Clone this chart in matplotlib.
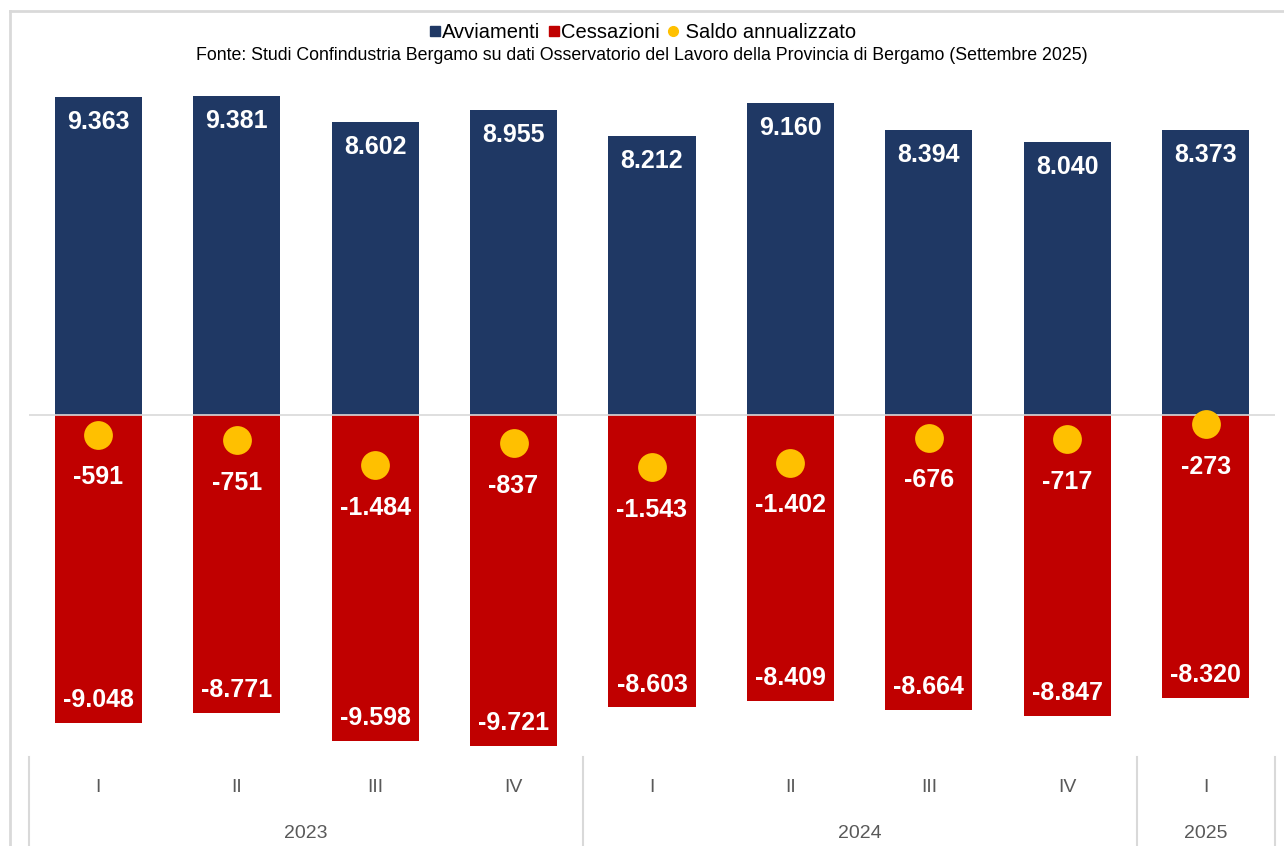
import matplotlib.pyplot as plt
from matplotlib.lines import Line2D
import matplotlib.transforms as mtransforms

plt.rcParams['font.family'] = ['Liberation Sans', 'DejaVu Sans']

# Data
trimestri = ['I', 'II', 'III', 'IV', 'I', 'II', 'III', 'IV', 'I']
anni = ['2023', '2024', '2025']
anni_pos = [1.5, 5.5, 8.0]
avviamenti = [9363, 9381, 8602, 8955, 8212, 9160, 8394, 8040, 8373]
cessazioni = [-9048, -8771, -9598, -9721, -8603, -8409, -8664, -8847, -8320]
saldo = [-591, -751, -1484, -837, -1543, -1402, -676, -717, -273]

blu = '#1F3864'
rosso = '#C00000'
giallo = '#FFC000'
grigio = '#D9D9D9'


def fmt(v):
    return f'{v:,}'.replace(',', '.')


fig = plt.figure(figsize=(12.84, 8.46), dpi=100)
ax = fig.add_axes([29 / 1284, 91 / 846, 1246 / 1284, 675 / 846])

x = list(range(len(trimestri)))
ax.bar(x, avviamenti, width=0.63, color=blu, zorder=2)
ax.bar(x, cessazioni, width=0.63, color=rosso, zorder=2)
ax.axhline(0, color=grigio, lw=1.2, zorder=3)
ax.scatter(x, saldo, s=430, color=giallo, zorder=4, linewidths=0)

for i in x:
    ax.annotate(fmt(avviamenti[i]), (i, avviamenti[i]), xytext=(0, -18),
                textcoords='offset points', ha='center', va='center',
                color='white', fontsize=18, fontweight='bold', zorder=5)
    ax.annotate(fmt(cessazioni[i]), (i, cessazioni[i]), xytext=(0, 16.5),
                textcoords='offset points', ha='center', va='center',
                color='white', fontsize=18, fontweight='bold', zorder=5)
    ax.annotate(fmt(saldo[i]), (i, saldo[i]), xytext=(0, -30.5),
                textcoords='offset points', ha='center', va='center',
                color='white', fontsize=18, fontweight='bold', zorder=5)

ax.set_xlim(-0.5, 8.5)
ax.set_ylim(-10000, 9850)
ax.axis('off')

# category axis below the plot
trans = mtransforms.blended_transform_factory(ax.transData, fig.transFigure)
for i, t in enumerate(trimestri):
    ax.text(i, 1 - 787 / 846, t, transform=trans, ha='center', va='center',
            fontsize=14, color='#595959')
for p, a in zip(anni_pos, anni):
    ax.text(p, 1 - 833 / 846, a, transform=trans, ha='center', va='center',
            fontsize=14, color='#595959')
for sx in [-0.5, 3.5, 7.5, 8.5]:
    ax.add_line(Line2D([sx, sx], [0, 1 - 757 / 846], transform=trans,
                       color=grigio, lw=1.5, clip_on=False))

# outer frame
fig.add_artist(Line2D([10 / 1284, 10 / 1284], [0, 1 - 11 / 846], color=grigio, lw=2))
fig.add_artist(Line2D([10 / 1284, 1], [1 - 11 / 846, 1 - 11 / 846], color=grigio, lw=2))

# legend
handles = [
    Line2D([], [], marker='s', color=blu, ls='none', markersize=6.5),
    Line2D([], [], marker='s', color=rosso, ls='none', markersize=6.5),
    Line2D([], [], marker='o', color=giallo, ls='none', markersize=7),
]
fig.legend(handles, ['Avviamenti', 'Cessazioni', ' Saldo annualizzato'],
           loc='center', bbox_to_anchor=(0.5, 1 - 33 / 846), ncol=3,
           frameon=False, fontsize=14.5, handletextpad=0.0,
           columnspacing=0.3, handlelength=0.7)
fig.text(0.5, 1 - 56 / 846,
         'Fonte: Studi Confindustria Bergamo su dati Osservatorio del Lavoro '
         'della Provincia di Bergamo (Settembre 2025)',
         ha='center', va='center', fontsize=12.8, color='black')

fig.savefig('out.png', dpi=100)
